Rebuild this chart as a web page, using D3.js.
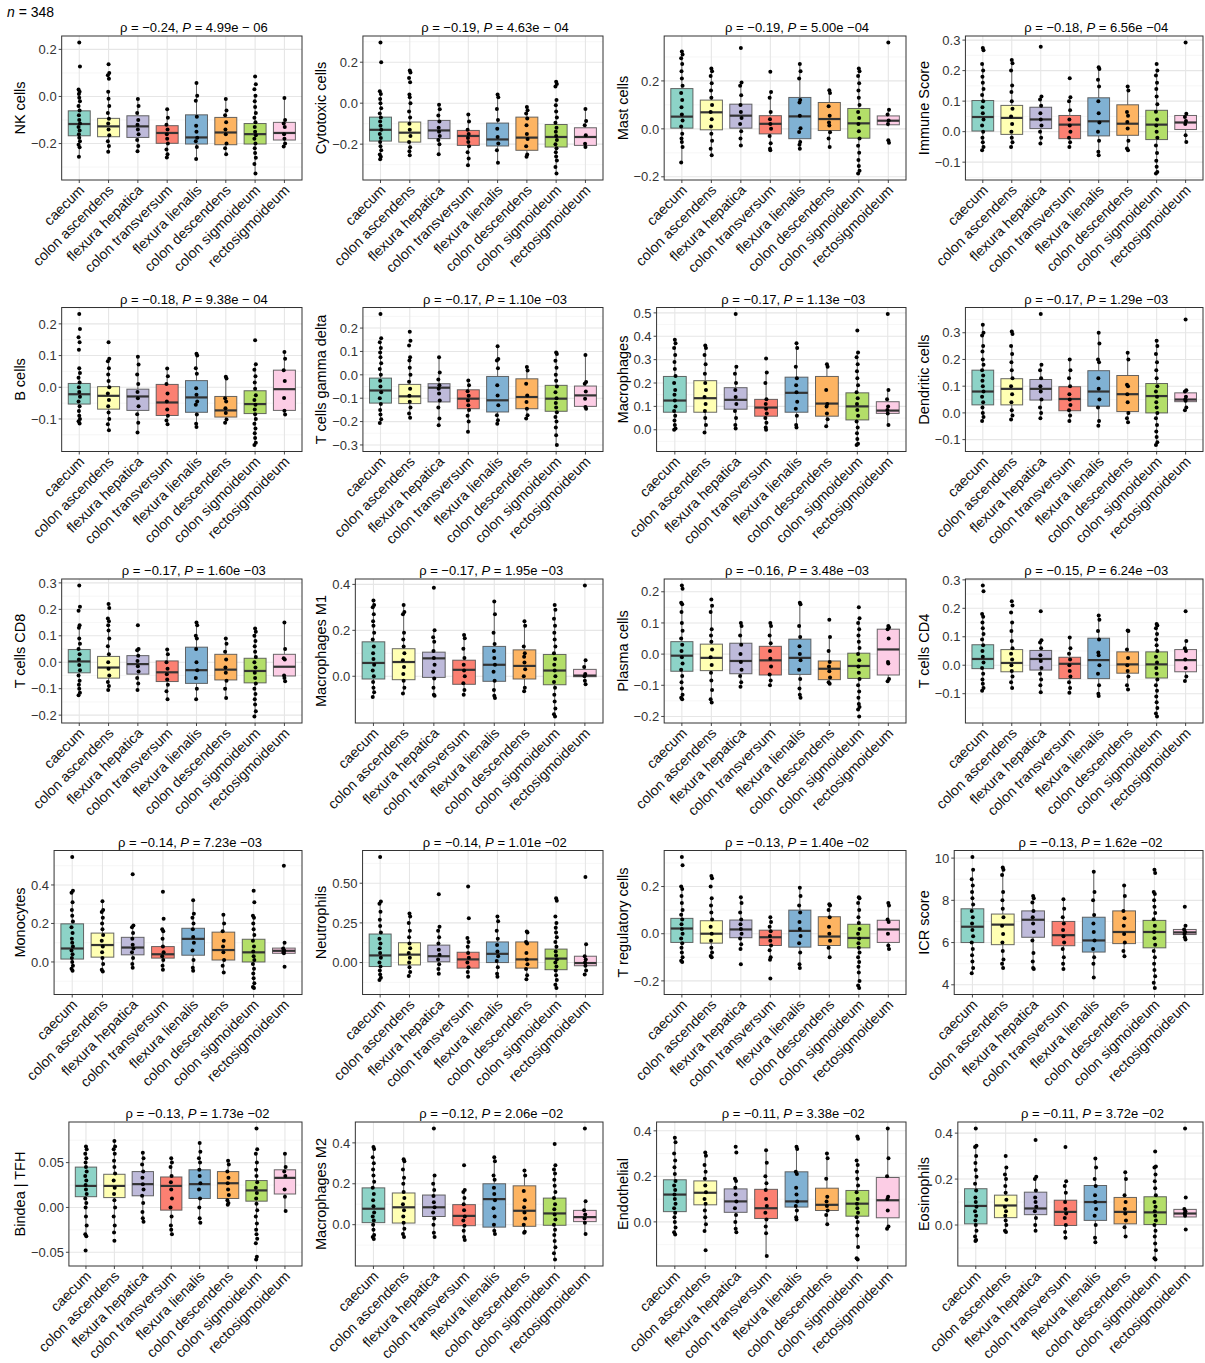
<!DOCTYPE html>
<html>
<head>
<meta charset="utf-8">
<script src="https://cdn.jsdelivr.net/npm/d3@7"></script>
<style>
  body { margin: 0; background: #fff; }
  svg { display: block; font-family: "Liberation Sans", Arial, Helvetica, sans-serif; }
</style>
</head>
<body>
<svg id="chart" width="1205" height="1363"></svg>
<script>
// Colon sites (x categories) and their fill colours
const sites = ["caecum", "colon ascendens", "flexura hepatica", "colon transversum",
               "flexura lienalis", "colon descendens", "colon sigmoideum", "rectosigmoideum"];
const siteColors = ["#8DD3C7", "#FFFFB3", "#BEBADA", "#FB8072", "#80B1D3", "#FDB462", "#B3DE69", "#FCCDE5"];

// One panel per immune feature, in reading order
const cellTypes = ["NK cells", "Cytotoxic cells", "Mast cells", "Immune Score",
                   "B cells", "T cells gamma delta", "Macrophages", "Dendritic cells",
                   "T cells CD8", "Macrophages M1", "Plasma cells", "T cells CD4",
                   "Monocytes", "Neutrophils", "T regulatory cells", "ICR score",
                   "Bindea  |  TFH", "Macrophages M2", "Endothelial", "Eosinophils"];
const rhoValues = ["−0.24", "−0.19", "−0.19", "−0.18", "−0.18", "−0.17", "−0.17", "−0.17", "−0.17", "−0.17",
                   "−0.16", "−0.15", "−0.14", "−0.14", "−0.13", "−0.13", "−0.13", "−0.12", "−0.11", "−0.11"];
const pValues = ["4.99e − 06", "4.63e − 04", "5.00e −04", "6.56e −04", "9.38e − 04", "1.10e −03", "1.13e −03", "1.29e −03",
                 "1.60e −03", "1.95e −03", "3.48e −03", "6.24e −03", "7.23e −03", "1.01e −02", "1.40e −02", "1.62e −02",
                 "1.73e −02", "2.06e −02", "3.38e −02", "3.72e −02"];
const sampleCount = 348;

// y-axis tick labels of each panel
const tickLabels = [
  ["−0.2", "0.0", "0.2"], ["−0.2", "0.0", "0.2"], ["−0.2", "0.0", "0.2"], ["−0.1", "0.0", "0.1", "0.2", "0.3"],
  ["−0.1", "0.0", "0.1", "0.2"], ["−0.3", "−0.2", "−0.1", "0.0", "0.1", "0.2"], ["0.0", "0.1", "0.2", "0.3", "0.4", "0.5"], ["−0.1", "0.0", "0.1", "0.2", "0.3"],
  ["−0.2", "−0.1", "0.0", "0.1", "0.2", "0.3"], ["0.0", "0.2", "0.4"], ["−0.2", "−0.1", "0.0", "0.1", "0.2"], ["−0.1", "0.0", "0.1", "0.2", "0.3"],
  ["0.0", "0.2", "0.4"], ["0.00", "0.25", "0.50"], ["−0.2", "0.0", "0.2"], ["4", "6", "8", "10"],
  ["−0.05", "0.00", "0.05"], ["0.0", "0.2", "0.4"], ["0.0", "0.2", "0.4"], ["0.0", "0.2", "0.4"]
];

// Box statistics per site: [lower whisker, Q1, median, Q3, upper whisker]
// Sample values per site are listed alongside each panel.
const nkBox = [[-0.256,-0.167,-0.117,-0.061,0.03],[-0.235,-0.171,-0.127,-0.093,0.02],[-0.233,-0.174,-0.127,-0.082,-0.011],[-0.259,-0.199,-0.155,-0.124,-0.054],
               [-0.266,-0.202,-0.174,-0.078,0.057],[-0.245,-0.205,-0.153,-0.089,-0.011],[-0.327,-0.202,-0.16,-0.115,0.003],[-0.212,-0.185,-0.155,-0.11,-0.007]];
const nkPts = [[0.229,0.127,0.03,0.02,0.01,-0.005,-0.02,-0.04,-0.06,-0.08,-0.1,-0.115,-0.13,-0.145,-0.16,-0.175,-0.19,-0.205,-0.216,-0.256],
               [0.137,0.1,0.09,0.075,0.02,-0.01,-0.04,-0.07,-0.095,-0.115,-0.14,-0.165,-0.19,-0.21,-0.235],
               [-0.011,-0.04,-0.07,-0.1,-0.12,-0.14,-0.16,-0.185,-0.21,-0.233],
               [-0.054,-0.09,-0.12,-0.14,-0.16,-0.18,-0.2,-0.225,-0.245,-0.259],
               [0.057,0.003,-0.018,-0.086,-0.124,-0.15,-0.175,-0.19,-0.215,-0.266],
               [-0.011,-0.06,-0.08,-0.11,-0.14,-0.16,-0.2,-0.22,-0.245],
               [0.085,0.052,0.031,0.003,-0.02,-0.045,-0.07,-0.09,-0.11,-0.13,-0.15,-0.165,-0.18,-0.2,-0.22,-0.24,-0.26,-0.287,-0.327],
               [-0.007,-0.1,-0.115,-0.13,-0.16,-0.18,-0.2,-0.212]];

const cytoBox = [[-0.274,-0.185,-0.13,-0.068,0.058],[-0.254,-0.19,-0.144,-0.092,0.042],[-0.249,-0.173,-0.133,-0.084,-0.008],[-0.303,-0.206,-0.16,-0.133,-0.055],
                 [-0.291,-0.209,-0.177,-0.097,0.042],[-0.262,-0.23,-0.168,-0.068,-0.019],[-0.343,-0.214,-0.165,-0.104,0.016],[-0.214,-0.206,-0.165,-0.12,-0.028]];
const cytoPts = [[0.296,0.2,0.058,0.045,0.02,0.0,-0.025,-0.05,-0.07,-0.09,-0.11,-0.13,-0.15,-0.17,-0.19,-0.21,-0.23,-0.25,-0.262,-0.274],
                 [0.159,0.15,0.123,0.102,0.042,0.029,0.0,-0.04,-0.07,-0.1,-0.13,-0.16,-0.19,-0.215,-0.235,-0.254],
                 [-0.008,-0.03,-0.06,-0.09,-0.12,-0.14,-0.16,-0.18,-0.2,-0.249],
                 [-0.055,-0.09,-0.13,-0.15,-0.17,-0.19,-0.21,-0.24,-0.27,-0.303],
                 [0.042,0.029,-0.028,-0.082,-0.125,-0.165,-0.197,-0.23,-0.291],
                 [-0.019,-0.035,-0.05,-0.075,-0.108,-0.15,-0.175,-0.21,-0.25,-0.262],
                 [0.105,0.094,0.081,0.016,-0.01,-0.04,-0.07,-0.095,-0.12,-0.14,-0.16,-0.18,-0.2,-0.22,-0.24,-0.26,-0.28,-0.311,-0.343],
                 [-0.028,-0.087,-0.108,-0.157,-0.198,-0.214]];

const mastBox = [[-0.14,0.003,0.051,0.168,0.323],[-0.11,-0.004,0.069,0.12,0.252],[-0.069,0.003,0.055,0.103,0.193],[-0.089,-0.021,0.021,0.055,0.154],
                 [-0.083,-0.041,0.052,0.131,0.271],[-0.076,-0.007,0.041,0.11,0.161],[-0.186,-0.039,0.023,0.085,0.252],[0.01,0.017,0.034,0.054,0.08]];
const mastPts = [[0.323,0.31,0.295,0.27,0.24,0.21,0.18,0.15,0.12,0.09,0.06,0.035,0.01,-0.02,-0.04,-0.055,-0.076,-0.14],
                 [0.252,0.24,0.22,0.19,0.16,0.13,0.1,0.07,0.04,0.01,-0.02,-0.05,-0.083,-0.11],
                 [0.337,0.193,0.18,0.14,0.1,0.07,0.045,0.02,-0.01,-0.04,-0.069],
                 [0.238,0.154,0.13,0.07,0.04,0.02,0.0,-0.03,-0.06,-0.083,-0.089],
                 [0.271,0.24,0.21,0.12,0.11,0.055,0.003,-0.013,-0.055,-0.066,-0.083],
                 [0.161,0.15,0.094,0.055,0.027,0.014,-0.014,-0.04,-0.076],
                 [0.252,0.24,0.22,0.19,0.16,0.13,0.1,0.07,0.045,0.02,-0.01,-0.04,-0.07,-0.1,-0.13,-0.155,-0.175,-0.186],
                 [0.36,0.08,0.06,0.035,0.02,-0.048,-0.058]];

const immBox = [[-0.061,0.002,0.048,0.102,0.222],[-0.05,-0.009,0.045,0.086,0.224],[-0.039,0.01,0.04,0.08,0.115],[-0.05,-0.023,0.023,0.053,0.113],
                [-0.077,-0.014,0.034,0.111,0.211],[-0.061,-0.012,0.026,0.088,0.148],[-0.137,-0.026,0.023,0.07,0.2],[-0.034,0.007,0.03,0.053,0.059]];
const immPts = [[0.274,0.267,0.222,0.2,0.18,0.16,0.14,0.12,0.1,0.08,0.06,0.04,0.02,0.0,-0.02,-0.035,-0.05,-0.061],
                [0.235,0.224,0.2,0.151,0.13,0.1,0.075,0.05,0.025,0.0,-0.02,-0.035,-0.05],
                [0.278,0.115,0.105,0.085,0.06,0.04,0.02,0.0,-0.02,-0.039],
                [0.175,0.113,0.1,0.07,0.04,0.02,0.0,-0.02,-0.035,-0.05],
                [0.211,0.205,0.17,0.148,0.1,0.06,0.03,0.0,-0.03,-0.066,-0.077],
                [0.148,0.135,0.064,0.052,0.032,0.01,-0.03,-0.055,-0.061],
                [0.222,0.2,0.184,0.16,0.14,0.115,0.09,0.065,0.04,0.02,0.0,-0.02,-0.045,-0.07,-0.095,-0.115,-0.132,-0.137],
                [0.292,0.059,0.048,0.035,0.025,-0.012,-0.034]];

const bBox = [[-0.114,-0.053,-0.022,0.012,0.06],[-0.136,-0.069,-0.027,0.002,0.09],[-0.143,-0.073,-0.029,-0.006,0.096],[-0.117,-0.089,-0.048,0.009,0.059],
              [-0.125,-0.079,-0.032,0.021,0.106],[-0.112,-0.094,-0.073,-0.029,0.033],[-0.182,-0.083,-0.053,-0.011,0.073],[-0.086,-0.073,-0.006,0.054,0.111]];
const bPts = [[0.231,0.184,0.158,0.142,0.118,0.06,0.045,0.03,0.015,0.0,-0.015,-0.03,-0.045,-0.06,-0.075,-0.09,-0.1,-0.107,-0.114],
              [0.142,0.09,0.082,0.06,0.04,0.02,0.0,-0.02,-0.04,-0.06,-0.08,-0.1,-0.117,-0.136],
              [0.096,0.072,0.04,0.01,-0.015,-0.035,-0.06,-0.085,-0.112,-0.143],
              [0.059,0.035,0.01,-0.02,-0.045,-0.07,-0.09,-0.105,-0.117],
              [0.106,0.1,0.06,0.043,-0.003,-0.024,-0.045,-0.055,-0.086,-0.115,-0.125],
              [0.033,0.028,-0.035,-0.045,-0.066,-0.081,-0.102,-0.112],
              [0.148,0.073,0.055,0.035,0.015,-0.005,-0.025,-0.04,-0.055,-0.07,-0.085,-0.1,-0.115,-0.13,-0.145,-0.16,-0.175,-0.182],
              [0.111,0.09,0.054,0.02,-0.034,-0.074,-0.086]];

const tgdBox = [[-0.206,-0.121,-0.067,-0.014,0.139],[-0.184,-0.123,-0.092,-0.041,0.075],[-0.216,-0.116,-0.055,-0.038,0.075],[-0.244,-0.145,-0.102,-0.064,-0.024],
                [-0.209,-0.159,-0.109,-0.007,0.122],[-0.187,-0.145,-0.095,-0.017,0.033],[-0.3,-0.156,-0.102,-0.045,0.096],[-0.145,-0.135,-0.088,-0.048,0.085]];
const tgdPts = [[0.26,0.156,0.139,0.115,0.096,0.075,0.05,0.025,0.0,-0.025,-0.05,-0.075,-0.1,-0.125,-0.15,-0.17,-0.19,-0.206],
                [0.184,0.146,0.125,0.075,0.061,0.03,0.0,-0.03,-0.06,-0.09,-0.115,-0.14,-0.165,-0.184],
                [0.075,0.01,-0.02,-0.045,-0.06,-0.08,-0.11,-0.14,-0.187,-0.216],
                [-0.024,-0.045,-0.07,-0.09,-0.11,-0.13,-0.15,-0.175,-0.2,-0.244],
                [0.122,0.068,0.061,0.028,-0.045,-0.088,-0.13,-0.173,-0.194,-0.209],
                [0.033,0.018,-0.038,-0.088,-0.116,-0.145,-0.173,-0.187],
                [0.096,0.089,0.06,0.03,0.0,-0.025,-0.05,-0.075,-0.1,-0.12,-0.14,-0.16,-0.18,-0.2,-0.225,-0.258,-0.3],
                [0.085,-0.031,-0.038,-0.071,-0.102,-0.138,-0.145]];

const macBox = [[0.0,0.075,0.125,0.228,0.385],[-0.012,0.075,0.135,0.21,0.36],[0.005,0.088,0.128,0.18,0.27],[0.0,0.058,0.095,0.13,0.245],
                [0.01,0.075,0.158,0.225,0.37],[0.015,0.058,0.112,0.228,0.28],[-0.065,0.042,0.1,0.158,0.33],[0.02,0.07,0.082,0.12,0.17]];
const macPts = [[0.385,0.37,0.35,0.32,0.29,0.26,0.23,0.2,0.17,0.15,0.125,0.1,0.08,0.06,0.04,0.02,0.005,0.0],
                [0.36,0.35,0.32,0.28,0.24,0.2,0.17,0.14,0.11,0.08,0.05,0.02,-0.012],
                [0.495,0.27,0.24,0.2,0.17,0.14,0.11,0.08,0.05,0.02,0.005],
                [0.305,0.245,0.2,0.13,0.11,0.09,0.07,0.05,0.03,0.01,0.0],
                [0.37,0.35,0.27,0.22,0.19,0.16,0.12,0.09,0.06,0.02,0.01],
                [0.28,0.27,0.17,0.11,0.1,0.07,0.045,0.015],
                [0.425,0.33,0.31,0.28,0.25,0.22,0.19,0.16,0.135,0.11,0.085,0.06,0.035,0.01,-0.015,-0.04,-0.06,-0.065],
                [0.495,0.17,0.13,0.1,0.085,0.07,0.02]];

const dcBox = [[-0.03,0.03,0.08,0.16,0.33],[-0.025,0.03,0.09,0.128,0.25],[-0.02,0.048,0.09,0.125,0.18],[-0.03,0.008,0.052,0.098,0.2],
               [-0.048,0.025,0.08,0.158,0.3],[-0.035,0.005,0.07,0.14,0.225],[-0.12,0.0,0.063,0.11,0.27],[0.01,0.042,0.05,0.075,0.085]];
const dcPts = [[0.33,0.3,0.29,0.25,0.23,0.2,0.18,0.16,0.14,0.12,0.1,0.08,0.06,0.04,0.02,0.0,-0.015,-0.03],
               [0.305,0.295,0.25,0.22,0.19,0.16,0.13,0.1,0.07,0.04,0.01,-0.01,-0.025],
               [0.37,0.18,0.16,0.13,0.1,0.08,0.05,0.02,0.0,-0.02],
               [0.2,0.16,0.13,0.1,0.07,0.05,0.03,0.01,-0.01,-0.03],
               [0.3,0.26,0.2,0.19,0.13,0.09,0.05,0.02,-0.03,-0.048],
               [0.225,0.2,0.105,0.1,0.07,0.04,0.0,-0.02,-0.035],
               [0.27,0.25,0.22,0.19,0.16,0.13,0.1,0.08,0.06,0.04,0.02,0.0,-0.02,-0.045,-0.07,-0.09,-0.11,-0.12],
               [0.35,0.085,0.08,0.06,0.05,0.045,0.02,0.01]];

const cd8Box = [[-0.125,-0.04,0.003,0.048,0.14],[-0.105,-0.06,-0.02,0.022,0.14],[-0.105,-0.045,-0.007,0.025,0.05],[-0.14,-0.073,-0.038,0.005,0.048],
                [-0.14,-0.08,-0.03,0.057,0.15],[-0.135,-0.067,-0.028,0.03,0.09],[-0.205,-0.078,-0.033,0.015,0.128],[-0.072,-0.052,-0.017,0.03,0.15]];
const cd8Pts = [[0.29,0.21,0.195,0.14,0.13,0.09,0.07,0.05,0.03,0.01,-0.01,-0.03,-0.05,-0.07,-0.085,-0.1,-0.115,-0.125],
                [0.22,0.205,0.165,0.155,0.14,0.12,0.09,0.06,0.03,0.0,-0.025,-0.05,-0.075,-0.09,-0.105],
                [0.14,0.05,0.045,0.025,0.005,-0.015,-0.035,-0.06,-0.08,-0.105],
                [0.048,0.03,0.0,-0.025,-0.045,-0.065,-0.085,-0.11,-0.14],
                [0.15,0.14,0.1,0.09,0.05,0.0,-0.03,-0.06,-0.1,-0.14],
                [0.09,0.07,0.04,0.01,-0.02,-0.04,-0.07,-0.1,-0.135],
                [0.128,0.115,0.1,0.08,0.06,0.04,0.02,0.0,-0.02,-0.04,-0.06,-0.08,-0.1,-0.12,-0.14,-0.16,-0.185,-0.205],
                [0.15,0.05,0.015,0.01,-0.05,-0.06,-0.072]];

const m1Box = [[-0.09,-0.012,0.058,0.15,0.33],[-0.075,-0.015,0.062,0.12,0.31],[-0.085,-0.005,0.078,0.105,0.2],[-0.08,-0.035,0.028,0.07,0.18],
               [-0.095,-0.022,0.05,0.13,0.325],[-0.065,-0.012,0.045,0.115,0.24],[-0.175,-0.037,0.025,0.095,0.29],[-0.035,-0.002,0.003,0.03,0.07]];
const m1Pts = [[0.33,0.31,0.3,0.27,0.24,0.22,0.19,0.16,0.13,0.1,0.075,0.05,0.025,0.0,-0.025,-0.05,-0.07,-0.09],
               [0.31,0.28,0.27,0.19,0.16,0.13,0.1,0.07,0.04,0.01,-0.02,-0.05,-0.075],
               [0.385,0.2,0.17,0.15,0.11,0.08,0.05,0.02,-0.01,-0.05,-0.08,-0.085],
               [0.18,0.165,0.12,0.08,0.05,0.025,0.0,-0.03,-0.06,-0.08],
               [0.325,0.27,0.19,0.14,0.11,0.08,0.05,0.02,-0.02,-0.06,-0.085,-0.095],
               [0.24,0.22,0.13,0.1,0.085,0.06,0.03,0.0,-0.05,-0.065],
               [0.31,0.29,0.25,0.22,0.19,0.16,0.13,0.1,0.075,0.05,0.025,0.0,-0.025,-0.05,-0.08,-0.11,-0.14,-0.165,-0.175],
               [0.395,0.07,0.04,0.01,0.0,-0.02,-0.035]];

const plasmaBox = [[-0.145,-0.055,-0.005,0.04,0.165],[-0.155,-0.053,-0.012,0.032,0.155],[-0.105,-0.063,-0.022,0.035,0.1],[-0.1,-0.067,-0.02,0.025,0.1],
                   [-0.14,-0.065,-0.012,0.048,0.165],[-0.095,-0.082,-0.047,-0.022,0.055],[-0.178,-0.078,-0.038,0.003,0.115],[-0.087,-0.067,0.015,0.08,0.09]];
const plasmaPts = [[0.22,0.21,0.165,0.16,0.135,0.1,0.075,0.05,0.03,0.01,-0.01,-0.03,-0.05,-0.07,-0.09,-0.11,-0.13,-0.14,-0.145],
                   [0.175,0.155,0.135,0.08,0.06,0.04,0.015,-0.01,-0.035,-0.06,-0.085,-0.115,-0.145,-0.155],
                   [0.1,0.09,0.06,0.03,0.0,-0.025,-0.05,-0.07,-0.09,-0.105],
                   [0.1,0.09,0.06,0.035,0.01,-0.015,-0.04,-0.065,-0.085,-0.1],
                   [0.165,0.16,0.09,0.055,0.025,0.0,-0.02,-0.05,-0.08,-0.11,-0.13,-0.14],
                   [0.11,0.055,0.01,-0.025,-0.04,-0.055,-0.075,-0.09,-0.095],
                   [0.15,0.115,0.1,0.08,0.06,0.04,0.02,0.0,-0.02,-0.04,-0.06,-0.08,-0.1,-0.12,-0.14,-0.16,-0.17,-0.178,-0.2],
                   [0.09,0.085,0.08,0.05,-0.025,-0.03,-0.08,-0.087]];

const cd4Box = [[-0.09,-0.012,0.022,0.072,0.18],[-0.08,-0.023,0.008,0.055,0.15],[-0.095,-0.017,0.022,0.052,0.088],[-0.097,-0.047,0.005,0.028,0.097],
                [-0.108,-0.047,0.018,0.095,0.175],[-0.085,-0.028,0.003,0.047,0.122],[-0.18,-0.045,0.003,0.047,0.145],[-0.055,-0.023,0.018,0.055,0.085]];
const cd4Pts = [[0.28,0.26,0.18,0.17,0.15,0.13,0.11,0.09,0.07,0.05,0.03,0.01,-0.01,-0.03,-0.05,-0.065,-0.08,-0.09],
                [0.225,0.21,0.185,0.15,0.12,0.085,0.06,0.04,0.02,0.0,-0.02,-0.04,-0.06,-0.08],
                [0.19,0.088,0.08,0.06,0.035,0.015,-0.01,-0.03,-0.05,-0.07,-0.095],
                [0.097,0.06,0.04,0.02,0.0,-0.02,-0.04,-0.06,-0.08,-0.097],
                [0.175,0.16,0.12,0.09,0.045,0.035,0.0,-0.03,-0.07,-0.1,-0.108],
                [0.122,0.12,0.055,0.025,0.0,-0.02,-0.04,-0.07,-0.085],
                [0.145,0.14,0.13,0.11,0.09,0.07,0.05,0.03,0.01,-0.01,-0.03,-0.05,-0.07,-0.09,-0.11,-0.13,-0.15,-0.17,-0.18],
                [0.19,0.085,0.06,0.05,0.02,-0.01,-0.04,-0.055]];

const monoBox = [[-0.045,0.015,0.07,0.198,0.37],[-0.05,0.025,0.088,0.15,0.315],[-0.03,0.037,0.075,0.128,0.19],[-0.04,0.02,0.04,0.08,0.17],
                 [-0.045,0.035,0.12,0.175,0.32],[-0.055,0.01,0.062,0.155,0.245],[-0.135,0.0,0.05,0.118,0.24],[0.04,0.045,0.058,0.072,0.1]];
const monoPts = [[0.545,0.37,0.36,0.31,0.27,0.24,0.21,0.18,0.15,0.12,0.1,0.08,0.06,0.04,0.02,0.0,-0.02,-0.035,-0.045],
                 [0.315,0.27,0.26,0.23,0.2,0.17,0.14,0.11,0.08,0.05,0.02,-0.01,-0.04,-0.05],
                 [0.455,0.19,0.18,0.15,0.12,0.09,0.07,0.05,0.02,-0.01,-0.03],
                 [0.365,0.225,0.17,0.16,0.12,0.08,0.05,0.03,0.01,-0.02,-0.04],
                 [0.32,0.25,0.23,0.2,0.17,0.13,0.1,0.06,0.01,-0.03,-0.045],
                 [0.245,0.2,0.16,0.11,0.08,0.05,0.01,-0.02,-0.055],
                 [0.37,0.31,0.24,0.23,0.2,0.17,0.14,0.11,0.08,0.055,0.03,0.01,-0.01,-0.035,-0.06,-0.085,-0.11,-0.13,-0.135],
                 [0.5,0.1,0.07,0.06,0.05,0.045,-0.025]];

const neutBox = [[-0.11,-0.025,0.045,0.18,0.385],[-0.085,-0.015,0.05,0.125,0.31],[-0.07,0.005,0.04,0.11,0.225],[-0.09,-0.035,0.02,0.065,0.155],
                 [-0.09,0.0,0.055,0.13,0.29],[-0.105,-0.035,0.02,0.13,0.195],[-0.16,-0.045,0.025,0.085,0.25],[-0.075,-0.02,-0.003,0.04,0.115]];
const neutPts = [[0.665,0.385,0.37,0.32,0.27,0.23,0.19,0.15,0.12,0.09,0.06,0.03,0.0,-0.025,-0.05,-0.075,-0.095,-0.11],
                 [0.31,0.29,0.25,0.2,0.16,0.12,0.09,0.06,0.03,0.0,-0.03,-0.06,-0.085],
                 [0.43,0.225,0.2,0.16,0.12,0.08,0.05,0.02,-0.01,-0.04,-0.07],
                 [0.48,0.28,0.155,0.13,0.1,0.06,0.03,0.0,-0.03,-0.06,-0.09],
                 [0.29,0.26,0.2,0.15,0.11,0.07,0.04,0.01,-0.03,-0.07,-0.09],
                 [0.195,0.19,0.13,0.12,0.06,0.02,-0.01,-0.04,-0.08,-0.105],
                 [0.405,0.39,0.29,0.25,0.22,0.19,0.16,0.13,0.1,0.07,0.045,0.02,0.0,-0.025,-0.05,-0.08,-0.11,-0.14,-0.16],
                 [0.54,0.115,0.04,0.02,0.0,-0.02,-0.05,-0.075]];

const tregBox = [[-0.12,-0.037,0.022,0.065,0.2],[-0.1,-0.04,0.0,0.055,0.15],[-0.065,-0.017,0.018,0.058,0.155],[-0.11,-0.05,-0.015,0.015,0.07],
                 [-0.145,-0.057,0.012,0.1,0.195],[-0.1,-0.05,-0.012,0.072,0.125],[-0.2,-0.06,-0.018,0.04,0.155],[-0.065,-0.037,0.018,0.057,0.13]];
const tregPts = [[0.325,0.29,0.2,0.19,0.16,0.13,0.1,0.08,0.06,0.04,0.02,0.0,-0.02,-0.04,-0.06,-0.08,-0.1,-0.115,-0.12],
                 [0.245,0.235,0.2,0.15,0.12,0.09,0.06,0.03,0.0,-0.03,-0.06,-0.08,-0.095,-0.1],
                 [0.155,0.13,0.09,0.06,0.04,0.02,0.0,-0.02,-0.045,-0.065,-0.13],
                 [0.07,0.05,0.03,0.01,-0.01,-0.03,-0.05,-0.07,-0.1,-0.11,-0.19],
                 [0.195,0.16,0.12,0.09,0.05,0.02,-0.01,-0.04,-0.08,-0.13,-0.145],
                 [0.125,0.12,0.1,0.07,0.03,0.0,-0.03,-0.06,-0.1],
                 [0.155,0.15,0.13,0.1,0.07,0.045,0.02,0.0,-0.02,-0.04,-0.06,-0.08,-0.1,-0.12,-0.14,-0.165,-0.2,-0.22,-0.23],
                 [0.13,0.12,0.06,0.05,0.0,-0.05,-0.065]];

const icrBox = [[4.55,6.0,6.75,7.6,9.45],[4.8,5.9,6.85,7.35,9.5],[4.75,6.25,7.08,7.5,8.2],[4.75,5.85,6.35,7.0,8.05],
                [4.35,5.55,6.1,7.2,9.35],[5.35,5.95,6.5,7.5,8.7],[3.85,5.75,6.5,7.05,8.4],[6.15,6.38,6.48,6.62,6.8]];
const icrPts = [[10.05,9.45,9.0,8.7,8.4,8.1,7.8,7.5,7.2,6.9,6.6,6.3,6.0,5.7,5.4,5.1,4.8,4.55],
                [9.55,9.45,9.2,8.4,8.0,7.6,7.2,6.8,6.4,6.0,5.6,5.2,5.0,4.8],
                [8.2,8.1,7.9,7.5,7.2,6.9,6.5,6.1,5.5,5.1,4.8,4.75],
                [8.05,7.6,7.2,6.9,6.6,6.3,6.0,5.7,5.3,5.0,4.75],
                [9.35,8.4,8.0,7.3,6.9,6.5,6.1,5.7,5.3,5.0,4.35],
                [8.7,8.2,7.5,7.15,6.8,6.4,6.0,5.6,5.35],
                [9.45,9.3,8.4,8.3,8.0,7.7,7.4,7.1,6.8,6.5,6.2,5.9,5.6,5.3,5.0,4.7,4.4,4.1,3.85],
                [7.7,6.8,6.62,6.5,6.4,6.25,6.15]];

const tfhBox = [[-0.032,0.012,0.024,0.045,0.068],[-0.028,0.011,0.024,0.037,0.074],[-0.016,0.013,0.026,0.04,0.061],[-0.03,-0.003,0.024,0.034,0.055],
                [-0.017,0.01,0.026,0.042,0.072],[0.003,0.01,0.027,0.04,0.052],[-0.025,0.007,0.019,0.03,0.062],[-0.004,0.015,0.033,0.042,0.06]];
const tfhPts = [[0.068,0.065,0.06,0.055,0.05,0.045,0.04,0.035,0.03,0.025,0.02,0.015,0.01,0.005,0.0,-0.01,-0.02,-0.03,-0.032,-0.048],
                [0.074,0.068,0.065,0.06,0.052,0.045,0.038,0.03,0.022,0.015,0.008,0.0,-0.01,-0.02,-0.028,-0.037],
                [0.061,0.055,0.048,0.04,0.033,0.026,0.02,0.013,0.005,-0.005,-0.012,-0.016],
                [0.055,0.05,0.045,0.035,0.028,0.02,0.01,0.0,-0.01,-0.02,-0.025,-0.03],
                [0.072,0.062,0.055,0.05,0.042,0.035,0.027,0.02,0.01,0.0,-0.012,-0.017],
                [0.052,0.048,0.04,0.033,0.027,0.02,0.014,0.008,0.005,0.003],
                [0.088,0.065,0.06,0.05,0.042,0.035,0.028,0.022,0.016,0.01,0.004,-0.003,-0.01,-0.018,-0.025,-0.03,-0.035,-0.04,-0.055,-0.058],
                [0.06,0.045,0.04,0.035,0.02,0.012,-0.004]];

const m2Box = [[-0.07,0.01,0.078,0.18,0.38],[-0.06,0.008,0.085,0.155,0.32],[-0.06,0.04,0.085,0.145,0.24],[-0.075,-0.005,0.043,0.098,0.17],
               [-0.045,-0.012,0.125,0.2,0.33],[-0.04,-0.008,0.068,0.19,0.265],[-0.17,-0.003,0.055,0.13,0.29],[-0.045,0.015,0.037,0.07,0.115]];
const m2Pts = [[0.38,0.37,0.33,0.3,0.27,0.24,0.21,0.18,0.15,0.12,0.09,0.06,0.04,0.02,0.0,-0.025,-0.05,-0.06,-0.07],
               [0.32,0.31,0.27,0.23,0.2,0.16,0.13,0.1,0.07,0.04,0.01,-0.02,-0.045,-0.06],
               [0.47,0.24,0.2,0.17,0.14,0.11,0.085,0.06,0.03,0.0,-0.04,-0.06],
               [0.29,0.17,0.16,0.13,0.1,0.07,0.04,0.02,-0.005,-0.03,-0.06,-0.075],
               [0.33,0.31,0.24,0.22,0.18,0.15,0.12,0.08,0.04,0.0,-0.03,-0.045],
               [0.265,0.24,0.165,0.12,0.085,0.06,0.03,0.0,-0.035,-0.04],
               [0.395,0.29,0.27,0.25,0.22,0.19,0.16,0.13,0.1,0.075,0.05,0.025,0.0,-0.025,-0.05,-0.08,-0.11,-0.14,-0.17],
               [0.47,0.115,0.07,0.05,0.03,0.01,-0.045]];

const endoBox = [[-0.055,0.045,0.12,0.185,0.37],[-0.04,0.075,0.128,0.18,0.305],[-0.045,0.042,0.09,0.145,0.19],[-0.15,0.015,0.06,0.143,0.315],
                 [0.01,0.065,0.09,0.22,0.33],[-0.01,0.05,0.075,0.148,0.3],[-0.11,0.025,0.08,0.138,0.27],[-0.03,0.018,0.095,0.195,0.41]];
const endoPts = [[0.37,0.35,0.3,0.27,0.24,0.21,0.18,0.16,0.14,0.12,0.1,0.08,0.06,0.04,0.02,0.0,-0.025,-0.045,-0.055],
                 [0.305,0.29,0.25,0.22,0.19,0.16,0.13,0.1,0.08,0.05,0.02,-0.01,-0.04,-0.125],
                 [0.33,0.305,0.19,0.18,0.15,0.12,0.09,0.06,0.03,0.0,-0.03,-0.045],
                 [0.315,0.26,0.2,0.17,0.14,0.1,0.07,0.04,0.01,-0.02,-0.05,-0.15],
                 [0.33,0.32,0.22,0.21,0.15,0.12,0.09,0.07,0.05,0.02,0.01],
                 [0.3,0.28,0.19,0.11,0.09,0.07,0.05,0.03,-0.01],
                 [0.375,0.365,0.27,0.25,0.22,0.19,0.16,0.13,0.1,0.08,0.06,0.04,0.02,0.0,-0.03,-0.06,-0.11,-0.16,-0.165],
                 [0.41,0.28,0.2,0.11,0.1,0.05,-0.02,-0.03]];

const eosBox = [[-0.07,0.005,0.083,0.158,0.345],[-0.03,0.032,0.085,0.13,0.25],[-0.025,0.045,0.072,0.143,0.21],[-0.055,-0.002,0.057,0.108,0.19],
                [-0.075,0.02,0.1,0.172,0.29],[-0.05,0.005,0.057,0.12,0.23],[-0.15,0.002,0.055,0.123,0.255],[0.035,0.035,0.05,0.068,0.07]];
const eosPts = [[0.42,0.345,0.34,0.3,0.27,0.24,0.21,0.18,0.15,0.12,0.1,0.08,0.06,0.04,0.02,0.0,-0.025,-0.05,-0.065,-0.07],
                [0.3,0.25,0.22,0.2,0.17,0.14,0.11,0.08,0.06,0.04,0.02,0.0,-0.025,-0.03],
                [0.37,0.21,0.2,0.15,0.12,0.1,0.08,0.06,0.03,0.0,-0.025],
                [0.34,0.19,0.17,0.14,0.1,0.07,0.05,0.03,0.0,-0.03,-0.055],
                [0.29,0.25,0.2,0.17,0.13,0.1,0.07,0.04,0.0,-0.055,-0.075],
                [0.23,0.2,0.13,0.1,0.07,0.05,0.02,-0.01,-0.05],
                [0.32,0.255,0.25,0.22,0.19,0.16,0.13,0.1,0.08,0.06,0.04,0.02,0.0,-0.025,-0.05,-0.08,-0.11,-0.145,-0.15],
                [0.42,0.12,0.07,0.06,0.05,0.04,-0.02]];

const boxStats = [nkBox, cytoBox, mastBox, immBox, bBox, tgdBox, macBox, dcBox, cd8Box, m1Box,
                  plasmaBox, cd4Box, monoBox, neutBox, tregBox, icrBox, tfhBox, m2Box, endoBox, eosBox];
const samplePoints = [nkPts, cytoPts, mastPts, immPts, bPts, tgdPts, macPts, dcPts, cd8Pts, m1Pts,
                      plasmaPts, cd4Pts, monoPts, neutPts, tregPts, icrPts, tfhPts, m2Pts, endoPts, eosPts];

// ---------- drawing ----------
const svg = d3.select("#chart");
const FONT_TICK = 13, FONT_TITLE = 13, FONT_YLAB = 14.5, FONT_XLAB = 14.3;
const colRight = [302, 603, 906, 1203];
const cellW = 301.25, rowH = 271.5;

const probe = svg.append("text").attr("font-size", FONT_TICK).attr("visibility", "hidden");
const textWidth = s => { probe.text(s); return probe.node().getComputedTextLength(); };
const num = s => +s.replace("−", "-");

// sample size label
const nLab = svg.append("text").attr("x", 7).attr("y", 17).attr("font-size", 14).attr("fill", "#000");
nLab.append("tspan").attr("font-style", "italic").text("n");
nLab.append("tspan").text(" = " + sampleCount);

cellTypes.forEach((name, k) => {
  const r = Math.floor(k / 4), c = k % 4;
  const cellLeft = cellW * c;
  const top = 36 + rowH * r, bottom = 180 + rowH * r;
  const labels = tickLabels[k];
  const ticks = labels.map(num);
  const left = cellLeft + 31 + d3.max(labels, textWidth) + 5;
  const right = colRight[c];

  const boxes = boxStats[k], pts = samplePoints[k];
  const ext = d3.extent(boxes.flat().concat(pts.flat()));
  const pad = (ext[1] - ext[0]) * 0.05;
  const y = d3.scaleLinear().domain([ext[0] - pad, ext[1] + pad]).range([bottom, top]);
  const x = d3.scalePoint().domain(sites).range([left, right]).padding(0.6);
  const bw = x.step() * 0.75;

  const g = svg.append("g");
  g.append("rect").attr("x", left).attr("y", top).attr("width", right - left).attr("height", bottom - top).attr("fill", "#fff");

  // minor grid halfway between major ticks
  const stepT = ticks[1] - ticks[0];
  const minor = [];
  for (let v = ticks[0] - stepT / 2; v <= ext[1] + pad + 1e-9; v += stepT) {
    if (v >= ext[0] - pad && v <= ext[1] + pad) minor.push(v);
  }
  g.selectAll(".minor").data(minor).join("line")
    .attr("x1", left).attr("x2", right).attr("y1", d => y(d)).attr("y2", d => y(d))
    .attr("stroke", "#F2F2F2").attr("stroke-width", 0.7);
  g.selectAll(".majorY").data(ticks).join("line")
    .attr("x1", left).attr("x2", right).attr("y1", d => y(d)).attr("y2", d => y(d))
    .attr("stroke", "#E6E6E6").attr("stroke-width", 1.1);
  g.selectAll(".majorX").data(sites).join("line")
    .attr("x1", d => x(d)).attr("x2", d => x(d)).attr("y1", top).attr("y2", bottom)
    .attr("stroke", "#E6E6E6").attr("stroke-width", 1.1);

  // boxplots
  const bg = g.selectAll(".box").data(boxes).join("g");
  bg.append("line").attr("x1", (d, i) => x(sites[i])).attr("x2", (d, i) => x(sites[i]))
    .attr("y1", d => y(d[0])).attr("y2", d => y(d[1])).attr("stroke", "#555").attr("stroke-width", 0.9);
  bg.append("line").attr("x1", (d, i) => x(sites[i])).attr("x2", (d, i) => x(sites[i]))
    .attr("y1", d => y(d[3])).attr("y2", d => y(d[4])).attr("stroke", "#555").attr("stroke-width", 0.9);
  bg.append("rect").attr("x", (d, i) => x(sites[i]) - bw / 2).attr("width", bw)
    .attr("y", d => y(d[3])).attr("height", d => y(d[1]) - y(d[3]))
    .attr("fill", (d, i) => siteColors[i]).attr("stroke", "#4d4d4d").attr("stroke-opacity", 0.85).attr("stroke-width", 1);
  bg.append("line").attr("x1", (d, i) => x(sites[i]) - bw / 2).attr("x2", (d, i) => x(sites[i]) + bw / 2)
    .attr("y1", d => y(d[2])).attr("y2", d => y(d[2])).attr("stroke", "#333").attr("stroke-width", 2.2);

  // individual samples, nudged a hair sideways so overlapping dots stay visible
  const nudge = [0, 0.7, -0.7, 0.35, -0.35];
  pts.forEach((vals, i) => {
    g.selectAll(null).data(vals).join("circle")
      .attr("cx", (d, j) => x(sites[i]) + nudge[j % nudge.length])
      .attr("cy", d => y(d)).attr("r", 2).attr("fill", "#000");
  });

  // panel border
  g.append("rect").attr("x", left).attr("y", top).attr("width", right - left).attr("height", bottom - top)
    .attr("fill", "none").attr("stroke", "#333").attr("stroke-width", 1);

  // y axis ticks + labels
  g.selectAll(".yt").data(ticks).join("line")
    .attr("x1", left - 3).attr("x2", left).attr("y1", d => y(d)).attr("y2", d => y(d))
    .attr("stroke", "#333").attr("stroke-width", 0.9);
  g.selectAll(".yl").data(labels).join("text")
    .attr("x", left - 5).attr("y", d => y(num(d))).attr("dy", "0.36em")
    .attr("text-anchor", "end").attr("font-size", FONT_TICK).attr("fill", "#333").text(d => d);

  // x axis ticks + rotated labels
  g.selectAll(".xt").data(sites).join("line")
    .attr("x1", d => x(d)).attr("x2", d => x(d)).attr("y1", bottom).attr("y2", bottom + 3)
    .attr("stroke", "#333").attr("stroke-width", 0.9);
  g.selectAll(".xl").data(sites).join("text")
    .attr("transform", d => `translate(${x(d) + 6},${bottom + 11}) rotate(-45)`)
    .attr("text-anchor", "end").attr("font-size", FONT_XLAB).attr("fill", "#111").text(d => d);

  // y axis title
  g.append("text")
    .attr("transform", `translate(${cellLeft + 25},${(top + bottom) / 2}) rotate(-90)`)
    .attr("text-anchor", "middle").attr("font-size", FONT_YLAB).attr("fill", "#000").text(name);

  // correlation title
  const t = g.append("text").attr("x", (left + right) / 2 + 12).attr("y", top - 4)
    .attr("text-anchor", "middle").attr("font-size", FONT_TITLE).attr("fill", "#000");
  t.append("tspan").text("ρ =  " + rhoValues[k] + ", ");
  t.append("tspan").attr("font-style", "italic").text("P");
  t.append("tspan").text(" = " + pValues[k]);
});
probe.remove();
</script>
</body>
</html>
